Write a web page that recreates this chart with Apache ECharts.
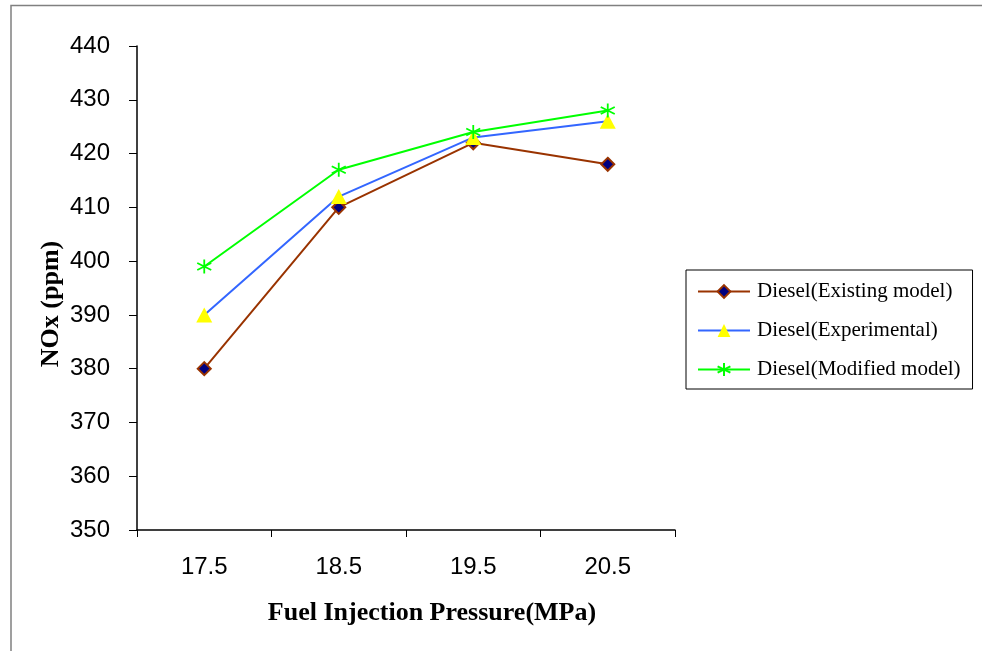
<!DOCTYPE html>
<html><head><meta charset="utf-8">
<script src="https://cdn.jsdelivr.net/npm/echarts@6/dist/echarts.min.js"></script>
<style>html,body{margin:0;padding:0;background:#fff}#c{width:982px;height:651px}</style>
</head><body><div id="c"></div>
<script>
const categories = ['17.5', '18.5', '19.5', '20.5'];
const existingModel = [380, 410, 422, 418];
const experimental = [390, 412, 423, 426];
const modifiedModel = [399, 417, 424, 428];
const yTicks = {min: 350, max: 440, interval: 10};

const starPath = 'path://M5,0 L5,10 M0.7,2.5 L9.3,7.5 M0.7,7.5 L9.3,2.5';
const chart = echarts.init(document.getElementById('c'));
chart.setOption({
  animation: false,
  grid: {left: 137, right: 307, top: 46, bottom: 121},
  graphic: [
    {type: 'rect', left: 8.5, top: 3, shape: {width: 1000, height: 700}, style: {fill: 'none', stroke: '#808080', lineWidth: 1.5}, silent: true},
    {type: 'text', x: 432, y: 613, style: {text: 'Fuel Injection Pressure(MPa)', font: 'bold 26px "Liberation Serif"', fill: '#000', textAlign: 'center', textVerticalAlign: 'middle'}},
    {type: 'text', x: 51, y: 304, rotation: Math.PI / 2, style: {text: 'NOx (ppm)', font: 'bold 26px "Liberation Serif"', fill: '#000', textAlign: 'center', textVerticalAlign: 'middle'}}
  ],
  xAxis: {
    type: 'category', data: categories, boundaryGap: true,
    axisLine: {lineStyle: {color: '#000', width: 1.5}},
    axisTick: {show: true, inside: false, length: 7, lineStyle: {color: '#000'}},
    axisLabel: {color: '#000', fontFamily: 'Liberation Sans', fontSize: 24, margin: 25},
    splitLine: {show: false}
  },
  yAxis: {
    type: 'value', min: yTicks.min, max: yTicks.max, interval: yTicks.interval,
    axisLine: {show: true, lineStyle: {color: '#000', width: 1.5}},
    axisTick: {show: true, inside: false, length: 8, lineStyle: {color: '#000'}},
    axisLabel: {color: '#000', fontFamily: 'Liberation Sans', fontSize: 24, margin: 27},
    splitLine: {show: false}
  },
  legend: {
    orient: 'vertical', left: 686, top: 270,
    borderColor: '#000', borderWidth: 1, borderRadius: 0,
    padding: [11, 12, 9, 11],
    itemGap: 18, itemWidth: 52, itemHeight: 16,
    textStyle: {fontFamily: 'Liberation Serif', fontSize: 21, color: '#000', padding: [0, 0, 0, 2]},
    data: ['Diesel(Existing model)', 'Diesel(Experimental)', 'Diesel(Modified model)']
  },
  series: [
    {name: 'Diesel(Existing model)', type: 'line', data: existingModel,
     lineStyle: {color: '#993300', width: 2}, symbol: 'diamond', symbolSize: 13,
     itemStyle: {color: '#000080', borderColor: '#993300', borderWidth: 2}},
    {name: 'Diesel(Experimental)', type: 'line', data: experimental,
     lineStyle: {color: '#3366FF', width: 2}, symbol: 'triangle', symbolSize: [16, 15],
     itemStyle: {color: '#FFFF00', borderColor: '#FFFF00', borderWidth: 0}},
    {name: 'Diesel(Modified model)', type: 'line', data: modifiedModel,
     lineStyle: {color: '#00FF00', width: 2}, symbol: starPath, symbolSize: 14,
     itemStyle: {color: 'none', borderColor: '#00FF00', borderWidth: 1.8}}
  ]
});
</script></body></html>
